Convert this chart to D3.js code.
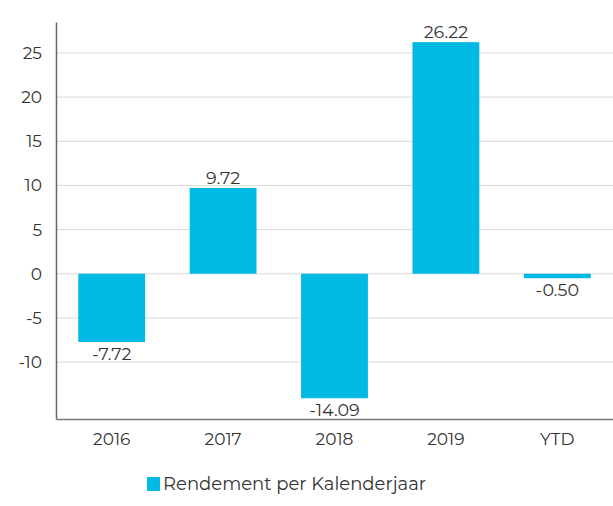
<!DOCTYPE html>
<html>
  <head>
    <meta charset="UTF-8">
    <style>
      body {
        margin: 0;
        font-family: 'Montserrat', 'Lato', sans-serif;
        background: #fff;
      }

      .tick text {
        font-family: 'Montserrat', 'Lato', sans-serif;
        font-size: 17px;
        fill: #333;
      }
    </style>
    <script src="https://d3js.org/d3.v7.min.js"></script>
  </head>

  <body>
    <svg id="chart"></svg>

    <script type="text/javascript">
      let categories = ['2016', '2017', '2018', '2019', 'YTD']
      let returns = [-7.72, 9.72, -14.09, 26.22, -0.50]
      let yTicks = [-10, -5, 0, 5, 10, 15, 20, 25]
      let seriesName = 'Rendement per Kalenderjaar'

      let width = 613
      let height = 506
      let margin = {top: 22, bottom: 87, left: 56, right: 0}
      let barColor = '#00b9e4'

      let svg = d3.select('#chart')
        .attr('width', width)
        .attr('height', height)

      let xScale = d3.scaleBand()
        .domain(categories)
        .range([margin.left, width - margin.right])
        .paddingInner(0.4)
        .paddingOuter(0.2)

      let yScale = d3.scaleLinear()
        .domain([-16.44, 28.5])
        .range([height - margin.bottom, margin.top])

      // grid lines
      svg.append('g')
        .selectAll('line')
        .data(yTicks)
        .enter()
        .append('line')
        .attr('x1', margin.left)
        .attr('x2', width - margin.right)
        .attr('y1', d => yScale(d))
        .attr('y2', d => yScale(d))
        .attr('stroke', '#d9d9d9')
        .attr('stroke-width', 1)

      // bars
      svg.append('g')
        .selectAll('rect')
        .data(categories)
        .enter()
        .append('rect')
        .attr('x', d => xScale(d))
        .attr('width', xScale.bandwidth())
        .attr('y', (d, i) => yScale(Math.max(0, returns[i])))
        .attr('height', (d, i) => Math.abs(yScale(returns[i]) - yScale(0)))
        .attr('fill', barColor)

      // value labels
      svg.append('g')
        .selectAll('text')
        .data(categories)
        .enter()
        .append('text')
        .attr('x', d => xScale(d) + xScale.bandwidth() / 2)
        .attr('y', (d, i) => returns[i] >= 0 ? yScale(returns[i]) - 4 : yScale(returns[i]) + 18)
        .attr('text-anchor', 'middle')
        .style('font-size', '17.5px')
        .style('fill', '#333')
        .text((d, i) => returns[i].toFixed(2))

      // axes
      let axisY = d3.axisLeft(yScale)
        .tickValues(yTicks)
        .tickFormat(d => String(d))
        .tickSize(0)
        .tickPadding(14)
      let gy = svg.append('g')
        .attr('transform', `translate(${margin.left},0)`)
        .call(axisY)
      gy.select('.domain').attr('stroke', '#666').attr('stroke-width', 1.5)

      let axisX = d3.axisBottom(xScale)
        .tickSize(0)
        .tickPadding(14)
      let gx = svg.append('g')
        .attr('transform', `translate(0,${height - margin.bottom})`)
        .call(axisX)
      gx.select('.domain').attr('stroke', '#777').attr('stroke-width', 1.5)

      // legend
      let legend = svg.append('g')
        .attr('transform', 'translate(147,477)')
      legend.append('rect')
        .attr('width', 13)
        .attr('height', 14)
        .attr('fill', barColor)
      legend.append('text')
        .attr('x', 16)
        .attr('y', 13)
        .style('font-size', '18px')
        .style('fill', '#333')
        .text(seriesName)
    </script>
  </body>
</html>
